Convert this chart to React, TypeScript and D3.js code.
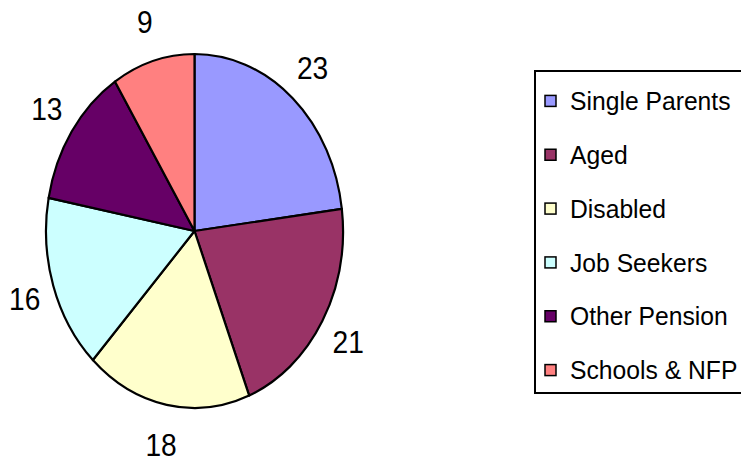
import React from "react";
import * as d3 from "d3";

const categories = ["Single Parents", "Aged", "Disabled", "Job Seekers", "Other Pension", "Schools & NFP"];
const values = [23, 21, 18, 16, 13, 9];
const colors = ["#9999FF", "#993366", "#FFFFCC", "#CCFFFF", "#660066", "#FF8080"];

const W = 741;
const H = 462;
const cx = 194.5;
const cy = 231;
const rx = 148.5;
const ry = 177;
const R = 100;
const labelOffX = 30;
const labelOffY = 41;

export default function App() {
  const pie = d3.pie<number>().sort(null).value((d) => d);
  const arcs = pie(values);
  const arcGen = d3.arc<d3.PieArcDatum<number>>().innerRadius(0).outerRadius(R);

  const legendY = d3.scaleBand<string>().domain(categories).range([74, 397]);

  return (
    <svg width={W} height={H} style={{ position: "absolute", left: 0, top: 0, background: "#fff" }}
      fontFamily="'Liberation Sans', Arial, sans-serif">
      <g transform={`translate(${cx},${cy}) scale(${rx / R},${ry / R})`}>
        {arcs.map((a, i) => (
          <path key={i} d={arcGen(a) || ""} fill={colors[i]} stroke="#000" strokeWidth={2.2}
            vectorEffect="non-scaling-stroke" strokeLinejoin="round" />
        ))}
      </g>
      {arcs.map((a, i) => {
        const m = (a.startAngle + a.endAngle) / 2;
        const x = cx + (rx + labelOffX) * Math.sin(m);
        const y = cy - (ry + labelOffY) * Math.cos(m);
        return (
          <text key={i} x={0} y={0} transform={`translate(${x},${y}) scale(0.88,1)`} textAnchor="middle"
            dominantBaseline="central" fontSize={32} fill="#000">
            {values[i]}
          </text>
        );
      })}
      <rect x={535} y={71} width={215} height={322} fill="#fff" stroke="#000" strokeWidth={2} />
      {categories.map((c, i) => {
        const y = (legendY(c) as number) + legendY.bandwidth() / 2;
        return (
          <g key={c}>
            <rect x={545} y={y - 5.5} width={11} height={11} fill={colors[i]} stroke="#000" strokeWidth={1.5} />
            <text x={0} y={0} dominantBaseline="central" fontSize={26} fill="#000"
              transform={`translate(570,${y}) scale(0.95,1)`}>
              {c}
            </text>
          </g>
        );
      })}
    </svg>
  );
}
